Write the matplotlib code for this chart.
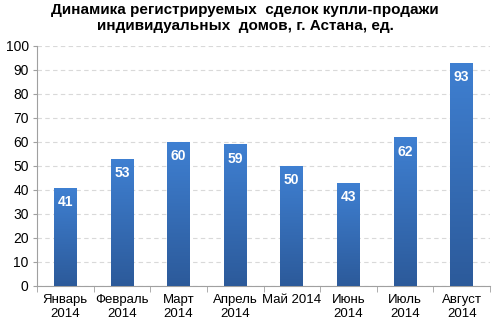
import numpy as np
import matplotlib
matplotlib.use("Agg")
import matplotlib.pyplot as plt
from matplotlib.colors import LinearSegmentedColormap

months = ["Январь\n2014", "Февраль\n2014", "Март\n2014", "Апрель\n2014",
          "Май 2014", "Июнь\n2014", "Июль\n2014", "Август\n2014"]
deals = [41, 53, 60, 59, 50, 43, 62, 93]

plt.rcParams['font.family'] = ['Liberation Sans', 'DejaVu Sans']

fig = plt.figure(figsize=(5, 3.26), dpi=100)
ax = fig.add_axes([0.074, 0.123, 0.906, 0.736])

x = np.arange(len(deals))
bars = ax.bar(x, deals, width=0.4, color='none', zorder=3)

# vertical gradient inside each bar
cmap = LinearSegmentedColormap.from_list("bl", ["#2c5a9a", "#3f80d2"])
grad = np.linspace(0, 1, 256).reshape(-1, 1)
for b in bars:
    im = ax.imshow(grad, cmap=cmap, aspect='auto', origin='lower',
                   extent=[b.get_x(), b.get_x() + b.get_width(), 0, b.get_height()],
                   zorder=3)
    im.set_clip_path(b)

for xi, v in zip(x, deals):
    ax.text(xi, v - 6, str(v), ha='center', va='center', color='white',
            fontsize=10, fontweight='bold', zorder=4)

ax.set_xlim(-0.5, len(deals) - 0.5)
ax.set_ylim(0, 100)
ax.set_yticks(range(0, 101, 10))
ax.tick_params(axis='y', labelsize=10, length=3, color='#a0a0a0', pad=3)
ax.set_xticks(x)
ax.set_xticklabels(months, fontsize=9.5, linespacing=1.15)
ax.set_xticks(np.arange(-0.5, len(deals)), minor=True)
ax.tick_params(axis='x', which='major', length=0, pad=6)
ax.tick_params(axis='x', which='minor', length=4, color='#a0a0a0')

ax.grid(axis='y', color='#d9d9d9', linestyle=(0, (4, 3)), linewidth=0.8, zorder=0)
for s in ['top', 'right']:
    ax.spines[s].set_visible(False)
ax.spines['left'].set_color('#a0a0a0')
ax.spines['bottom'].set_color('#a0a0a0')

fig.suptitle("Динамика регистрируемых  сделок купли-продажи\nиндивидуальных  домов, г. Астана, ед.",
             x=0.49, y=0.99, fontsize=11, fontweight='bold', linespacing=1.2)

fig.savefig("out.png", dpi=100)
